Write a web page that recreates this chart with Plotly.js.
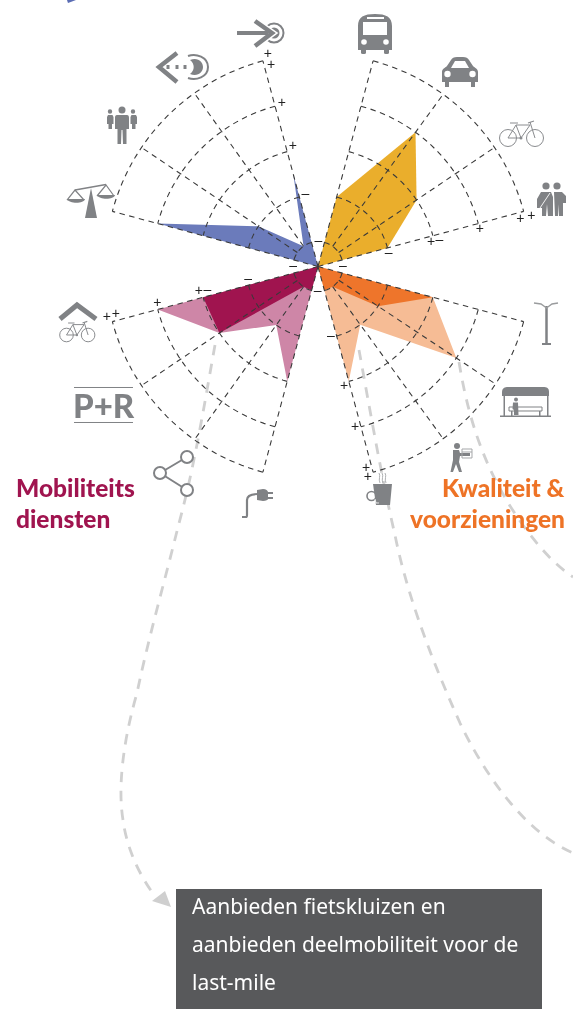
<!DOCTYPE html>
<html>
<head>
<meta charset="utf-8">
<script src="https://cdn.plot.ly/plotly-3.0.1.min.js"></script>
<style>html,body{margin:0;padding:0;background:#fff}#c{width:573px;height:1009px;will-change:transform}</style>
</head>
<body>
<div id="c"></div>
<script>
// ---- data: level per spoke for each sector ----
var ORIGIN = 0.47;
var thetaYellow = [15, 36, 56, 75];
var valuesYellow = [2, 4, 3, 2];
var thetaBlue = [345, 324.5, 304, 285];
var valuesBlue = [2.5, 1, 2, 4];
var thetaOrange = [105, 123.5, 144, 165];
var valuesOrangeLight = [3, 4, 2, 3];
var valuesOrangeDark = [3, 2, 1, 1];
var thetaMagenta = [195, 215.5, 236, 255];
var valuesMagentaLight = [3, 2, 3, 4];
var valuesMagentaDark = [1, 1, 3, 3];
var ringLevels = [1, 2, 3, 4, 5];

// scale marks next to the spokes
var markTheta = [77, 76.8, 77.1, 78, 77.9, 79.6, 90,
                 346.7, 346.9, 347.5, 348.2, 350, 361,
                 256.4, 256.6, 257, 258, 257.8, 259.5, 271,
                 167.8, 167, 166.6, 166.7, 169.5, 181];
var markLevel = [4.89, 5.13, 4, 2.93, 3.11, 2, 1,
                 5.11, 4.87, 4.02, 3.08, 2.02, 1,
                 5.09, 4.89, 3.98, 3.06, 2.88, 1.98, 1,
                 3.09, 3.98, 4.89, 5.09, 1.98, 1];
var markText = ['+', '+', '+', '+', '–', '–', '–',
                '+', '+', '+', '+', '–', '–',
                '+', '+', '+', '+', '–', '–', '–',
                '+', '+', '+', '+', '–', '–'];

var labelMobiliteit = ['Mobiliteits', 'diensten'];
var labelKwaliteit = ['Kwaliteit &', 'voorzieningen'];
var boxLines = ['Aanbieden fietskluizen en', 'aanbieden deelmobiliteit voor de', 'last-mile'];

var W = 573, H = 1009;
var GREY = '#808285', MAG = '#A0144F', ORG = '#EE7326';

// ---- fills ----
function fill(theta, vals, color) {
  return {
    type: 'scatterpolar', mode: 'lines', fill: 'toself', fillcolor: color,
    r: [ORIGIN].concat(vals, [ORIGIN]),
    theta: [theta[0]].concat(theta, [theta[theta.length - 1]]),
    line: {width: 0, color: color}, hoverinfo: 'skip', showlegend: false
  };
}
var traces = [
  fill(thetaBlue, valuesBlue, '#6B7BBB'),
  fill(thetaYellow, valuesYellow, '#EAAE2C'),
  fill(thetaOrange, valuesOrangeLight, '#F6BC95'),
  fill(thetaOrange, valuesOrangeDark, '#EE752B'),
  fill(thetaMagenta, valuesMagentaLight, '#CE86A7'),
  fill(thetaMagenta, valuesMagentaDark, '#A0144F')
];

// ---- sector grid ----
var sectors = [thetaYellow, thetaBlue, thetaOrange, thetaMagenta];
var gridR = [], gridT = [];
sectors.forEach(function (t) {
  var a = t[0], b = t[3];
  ringLevels.forEach(function (lv) {
    for (var k = 0; k <= 30; k++) { gridR.push(lv); gridT.push(a + (b - a) * k / 30); }
    gridR.push(null); gridT.push(null);
  });
  // outer spokes run to the centre, inner ones start at the first ring
  [t[0], t[3]].forEach(function (th) {
    gridR.push(ORIGIN, 5, null); gridT.push(th, th, null);
  });
  [t[1], t[2]].forEach(function (th) {
    gridR.push(1, 5, null); gridT.push(th, th, null);
  });
});
traces.push({
  type: 'scatterpolar', mode: 'lines', r: gridR, theta: gridT, connectgaps: false,
  line: {color: '#3a3a3a', width: 1.1, dash: '5.5px,4.5px'}, hoverinfo: 'skip', showlegend: false
});
traces.push({
  type: 'scatterpolar', mode: 'text', r: markLevel, theta: markTheta, text: markText,
  textposition: 'middle center', cliponaxis: false,
  textfont: {family: 'Liberation Sans', size: 14, color: '#222'}, hoverinfo: 'skip', showlegend: false
});

// ---- decoration helpers (page pixels -> paper) ----
function fx(x) { return x / W; }
function fy(y) { return 1 - y / H; }
function P(d) {
  return d.replace(/(-?[\d.]+),(-?[\d.]+)/g, function (m, a, b) {
    return fx(+a).toFixed(5) + ',' + fy(+b).toFixed(5);
  });
}
var shapes = [];
function base() { return {xref: 'paper', yref: 'paper', layer: 'above'}; }
function solid(d, color) {
  var s = base(); s.type = 'path'; s.path = P(d); s.fillcolor = color || GREY; s.line = {width: 0};
  shapes.push(s);
}
function stroke(d, w, color, dash) {
  var s = base(); s.type = 'path'; s.path = P(d); s.fillcolor = 'rgba(0,0,0,0)';
  s.line = {width: w, color: color || GREY}; if (dash) s.line.dash = dash;
  shapes.push(s); return s;
}
function circ(cx, cy, r, fc, w, lc) {
  var s = base(); s.type = 'circle';
  s.x0 = fx(cx - r); s.x1 = fx(cx + r); s.y0 = fy(cy + r); s.y1 = fy(cy - r);
  s.fillcolor = fc === undefined ? GREY : (fc || 'rgba(0,0,0,0)');
  s.line = {width: w || 0, color: lc || GREY};
  shapes.push(s);
}
function rect(x0, y0, x1, y1, fc) {
  var s = base(); s.type = 'rect';
  s.x0 = fx(x0); s.x1 = fx(x1); s.y0 = fy(y1); s.y1 = fy(y0);
  s.fillcolor = fc || GREY; s.line = {width: 0};
  shapes.push(s);
}
function bike(cx, cy, k) { // cx,cy = rear wheel centre
  var c = '#8a8c8f', w = 1;
  var p = function (x, y) { return (cx + x * k) + ',' + (cy + y * k); };
  circ(cx, cy, 8.5 * k, null, w, c);
  circ(cx + 27 * k, cy, 8.5 * k, null, w, c);
  stroke('M' + p(0, 0) + ' L' + p(8, -13) + ' L' + p(13, 0) + ' Z', w, c);
  stroke('M' + p(8, -13) + ' L' + p(22, -13) + ' L' + p(13, 0) + ' M' + p(22, -16) + ' L' + p(27, 0), w, c);
  stroke('M' + p(2, -15) + ' L' + p(10, -15) + ' M' + p(20, -15) + ' L' + p(26, -17), 1.2, c);
  circ(cx + 13 * k, cy, 1.5 * k, c);
}

// ---- dashed callouts ----
var curveStyle = {w: 2.8, c: '#D0D0D0', d: '10.5px,8.5px'};
['M215,345 C205,400 195,465 178,527 C165,580 148,640 137,693 C122,745 118,790 123,820 C127,850 140,875 152,892',
 'M359,350 C370,410 382,480 395,535 C405,585 425,645 460,723 C480,765 520,830 573,853',
 'M459,362 C470,430 490,480 525,528 C540,548 555,565 573,577'
].forEach(function (d) {
  var s = stroke(d, curveStyle.w, curveStyle.c, curveStyle.d);
  s.layer = 'below';
});
solid('M152,901 L165,891 L171,907 Z', '#CFCFCF');

// top-left sliver
solid('M67,0 L76,0 L68,3 Z', '#5B6DB4');

// answer box
rect(176, 889, 542, 1009, '#58595B');

// bus
solid('M358,26 C358,17 364,14 375,14 C386,14 392,17 392,26 L392,50 L389,50 L389,53 C389,54.5 384,54.5 384,53 L384,50 L366,50 L366,53 C366,54.5 361,54.5 361,53 L361,50 L358,50 Z');
rect(363, 22, 387, 35, '#fff');
rect(367, 17, 384, 19, '#fff');
circ(364, 42, 2.8, '#fff'); circ(386, 42, 2.8, '#fff');

// car
solid('M442,72 C442,69 445,68 447,66 L451,60 C452,58 454,57 457,57 L463,57 C466,57 468,58 469,60 L473,66 C475,68 478,69 478,72 L478,82 L475,82 L475,87 L471,87 L471,82 L449,82 L449,87 L445,87 L445,82 L442,82 Z');
solid('M451,68 L469,68 L465,61 L455,61 Z', '#fff');
circ(447.5, 74, 3.2, '#fff'); circ(472.5, 74, 3.2, '#fff');

// bike
bike(508, 138, 1);

// two people
circ(546, 186, 3.6); circ(557, 186, 3.6);
solid('M541,192 L551,192 L553,197 L553,216 L548,216 L547,204 L546,216 L542,216 L542,208 L537,208 L537,199 Z');
stroke('M540,208 L550,193', 0.9, '#fff');
solid('M554,192 L562,192 L566,196 L566,203 L563,203 L563,216 L559,216 L558,204 L558,216 L555,216 Z');

// arrow in
circ(274, 33, 9.5, null, 2, GREY);
circ(274, 33, 5.5);
stroke('M255,21 L272,33 L255,46', 7.5, '#fff');
stroke('M237,33 L268,33', 4, GREY);
stroke('M255,21 L272,33 L255,46', 4.5, GREY);

// arrow out
stroke('M188,56 C196,53 208,57 208,67 C208,77 196,81 188,78', 2, GREY);
solid('M190,60 C198,57 203,62 203,67 C203,72 198,77 190,74 C195,70 195,64 190,60 Z');
[168, 177, 185].forEach(function (x) { rect(x - 1.5, 65, x + 1.5, 69); });
stroke('M177,53 L159,67 L177,82', 4.5, GREY);

// three people
circ(122, 110, 3.5); circ(110, 111.5, 2.2); circ(133, 111.5, 2.2);
solid('M117,115 L127,115 C128.5,115 129,116 129,118 L129,129 L126.5,129 L126.5,144 L123,144 L122.5,130 L121.5,130 L121,144 L117.5,144 L117.5,129 L115,129 L115,118 C115,116 115.5,115 117,115 Z');
solid('M108,115 L112.5,115 L113.5,117 L113.5,124 L112,124 L112,129 L108.5,129 L108.5,124 L107,124 L107,117 Z');
solid('M131.5,115 L136,115 L137,117 L137,124 L135.5,124 L135.5,129 L132,129 L132,124 L130.5,124 L130.5,117 Z');

// scales
stroke('M75,190 L106,184.5', 1.4, GREY);
solid('M91,188 L97,218 L85,218 Z');
stroke('M67,200 L75,190 L84,200', 1.2, GREY);
stroke('M97,196 L106,185 L114,196', 1.2, GREY);
solid('M67,199 L85,199 C84,204 69,204 67,199 Z');
solid('M97,195 L115,195 C114,200 99,200 97,195 Z');

// lamp
stroke('M546.5,306 L546.5,343', 2.5, GREY);
stroke('M542,344 L551,344', 2, GREY);
stroke('M534,303 L541,304 L546.5,308 L552,304 L558,303', 1.4, '#9a9c9e');

// shelter
solid('M502,396 L502,392 C502,388 505,387 508,387 L543,387 C547,387 549,388 549,392 L549,396 Z');
rect(503.5, 396, 505, 416); rect(547, 396, 548.5, 416);
rect(500, 415.5, 551, 417);
stroke('M509,407 L542,407 L542,411 L509,411 Z', 1, GREY);
rect(511, 411, 512.5, 416); rect(539, 411, 540.5, 416);
circ(516, 399.5, 2);
solid('M513,402.5 L518,402.5 L518.5,415 L514,415 L514,410 L512.5,409 Z');

// person with box
circ(457, 446, 3);
solid('M453,450 L459,450 L460,453 L470,453 L470,456 L460,456 L459,462 L462,472 L459,472 L456,464 L453,472 L450.5,472 L453,460 Z');
stroke('M462,449 L472,449 L472,458 L462,458 Z M462,452 L472,452', 1, '#a5a7a9');

// coffee
stroke('M379,473 C381,476 378,479 380,483 M382,473 C384,476 381,479 383,483 M385,473 C387,476 384,479 386,483', 0.9, '#a5a7a9');
circ(371.5, 496, 4.5, '#fff', 1.6, GREY);
solid('M373,484 L392,484 L390,505 L376,505 Z');
stroke('M375,499 L376,503 L379,503', 0.8, '#fff');

// bike shelter
stroke('M60,319 L77,305 L96,319', 5, GREY);
bike(66.5, 335, 0.8);

// P+R lines
stroke('M74,387.5 L133,387.5', 1, GREY);
stroke('M74,422.5 L133,422.5', 1, GREY);

// share
stroke('M160,473 L187,457 M160,473 L187,490', 2, GREY);
circ(160, 473, 6, '#fff', 2, GREY);
circ(187, 457, 6, '#fff', 2, GREY);
circ(187, 490, 6, '#fff', 2, GREY);

// plug
stroke('M242,517 L246,517 C247,517 247,516 247,515 L247,500 C247,496 250,494 258,494', 2.2, GREY);
solid('M257,490 L263,489 C266,489 268,491 268,492 L273,492 L273,494 L268,494 L268,497 L273,497 L273,499 L268,499 C268,500 266,501 263,501 L257,500 Z');

// ---- text ----
function txt(t, x, y, anchor, size, color, family, heavy) {
  var font = {family: family, size: size, color: color};
  if (heavy) font.weight = heavy;
  return {
    text: t, xref: 'paper', yref: 'paper',
    x: fx(x), y: fy(y), xanchor: anchor, yanchor: 'middle', showarrow: false,
    font: font, align: anchor
  };
}
var HEAD = 'Lato, sans-serif', BODY = '"Noto Sans", sans-serif';
var annotations = [
  txt(labelMobiliteit[0], 13.5, 487, 'left', 24.5, MAG, HEAD, 900),
  txt(labelMobiliteit[1], 13.5, 518, 'left', 24.5, MAG, HEAD, 900),
  txt(labelKwaliteit[0], 567, 488, 'right', 24.5, ORG, HEAD, 900),
  txt(labelKwaliteit[1], 567, 518, 'right', 24.5, ORG, HEAD, 900),
  txt(boxLines[0], 190, 906, 'left', 21, '#fff', BODY),
  txt(boxLines[1], 190, 944, 'left', 21, '#fff', BODY),
  txt(boxLines[2], 190, 982, 'left', 21, '#fff', BODY),
  txt('P+R', 103.5, 405, 'center', 33, GREY, HEAD, 900)
];

var R = 235, CX = 318, CY = 266.5;
var layout = {
  width: W, height: H, margin: {l: 0, r: 0, t: 0, b: 0},
  paper_bgcolor: '#fff', showlegend: false,
  polar: {
    domain: {x: [(CX - R) / W, (CX + R) / W], y: [1 - (CY + R) / H, 1 - (CY - R) / H]},
    bgcolor: 'rgba(0,0,0,0)',
    radialaxis: {visible: false, range: [ORIGIN, ORIGIN + R / 47]},
    angularaxis: {visible: false, rotation: 90, direction: 'clockwise', thetaunit: 'degrees'}
  },
  shapes: shapes, annotations: annotations
};
Plotly.newPlot('c', traces, layout, {staticPlot: true, displayModeBar: false});
</script>
</body>
</html>
